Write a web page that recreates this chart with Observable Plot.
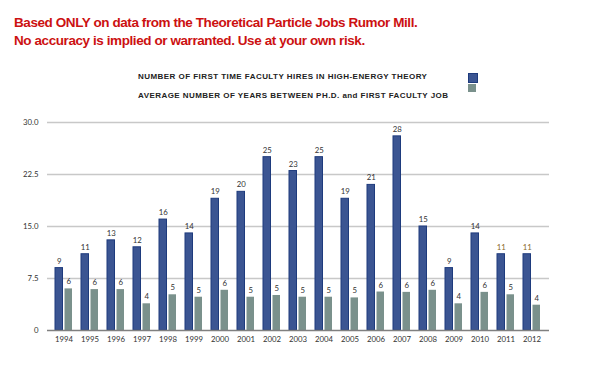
<!DOCTYPE html>
<html><head><meta charset="utf-8">
<script src="https://cdn.jsdelivr.net/npm/d3@7"></script>
<script src="https://cdn.jsdelivr.net/npm/@observablehq/plot@0.6"></script>
<style>
body{margin:0;background:#fff;width:600px;height:365px;overflow:hidden;position:relative;font-family:"Liberation Sans",Arial,sans-serif}
.t{position:absolute;left:14px;color:#cc1111;font-weight:bold;font-size:13.5px;letter-spacing:-0.42px;white-space:nowrap}
.lg{position:absolute;left:138px;font-weight:bold;font-size:8px;letter-spacing:0.45px;color:#222;white-space:nowrap}
.sw{position:absolute;left:468px;width:8px;height:8px}
#chart{position:absolute;left:0;top:100px}
</style></head><body>
<div class="t" style="top:14.9px">Based ONLY on data from the Theoretical Particle Jobs Rumor Mill.</div>
<div class="t" style="top:32.6px">No accuracy is implied or warranted. Use at your own risk.</div>
<div class="lg" style="top:72px">NUMBER OF FIRST TIME FACULTY HIRES IN HIGH-ENERGY THEORY</div>
<div class="lg" style="top:90.8px">AVERAGE NUMBER OF YEARS BETWEEN PH.D. and FIRST FACULTY JOB</div>
<div class="sw" style="top:72.5px;background:#3b5592;border:0.5px solid #1e3b7d"></div>
<div class="sw" style="top:83.5px;background:#7a918c"></div>
<div id="chart"></div>
<script>
const years = ["1994","1995","1996","1997","1998","1999","2000","2001","2002","2003","2004","2005","2006","2007","2008","2009","2010","2011","2012"];
const hires = [9,11,13,12,16,14,19,20,25,23,25,19,21,28,15,9,14,11,11];
const avgYears = [6.0,5.9,5.9,3.85,5.15,4.8,5.8,4.8,5.05,4.8,4.8,4.7,5.55,5.5,5.8,3.85,5.5,5.15,3.65];
const yTicks = [0,7.5,15,22.5,30];
const yTickLabels = ["0","7.5","15.0","22.5","30.0"];
const data = years.map((year,i)=>({year, hires:hires[i], avg:avgYears[i]}));

const chart = Plot.plot({
  width:600, height:265, marginLeft:47, marginRight:51, marginTop:22, marginBottom:35,
  style:{fontFamily:"Lato, sans-serif", fontSize:"7.8px", color:"#333", background:"transparent"},
  x:{type:"band", domain:years, paddingInner:0.345, paddingOuter:0.165, label:null, tickSize:0, tickPadding:6},
  y:{domain:[0,30], ticks:yTicks, tickFormat:d=>yTickLabels[yTicks.indexOf(d)], tickSize:0, tickPadding:9, label:null},
  marks:[
    Plot.ruleY(yTicks.filter(d=>d>0), {stroke:"#c8c8c8", strokeWidth:1.5}),
    Plot.barY(data, {x:"year", y:"hires", fill:"#3b5592", stroke:"#1e3b7d", strokeWidth:1, insetRight:9.5}),
    Plot.barY(data, {x:"year", y:"avg", fill:"#7a918c", insetLeft:9.5}),
    Plot.ruleY([0], {stroke:"#808080", strokeWidth:1.5}),
    Plot.text(data, {x:"year", y:"hires", text:d=>String(d.hires), dx:-4.75, dy:-7, fill:d=>(d.year==="2011"||d.year==="2012")?"#8a6a2a":"#333"}),
    Plot.text(data, {x:"year", y:"avg", text:d=>String(Math.round(d.avg)), dx:4.75, dy:-7, fill:"#333"})
  ]
});
document.getElementById("chart").appendChild(chart);
</script>
</body></html>
